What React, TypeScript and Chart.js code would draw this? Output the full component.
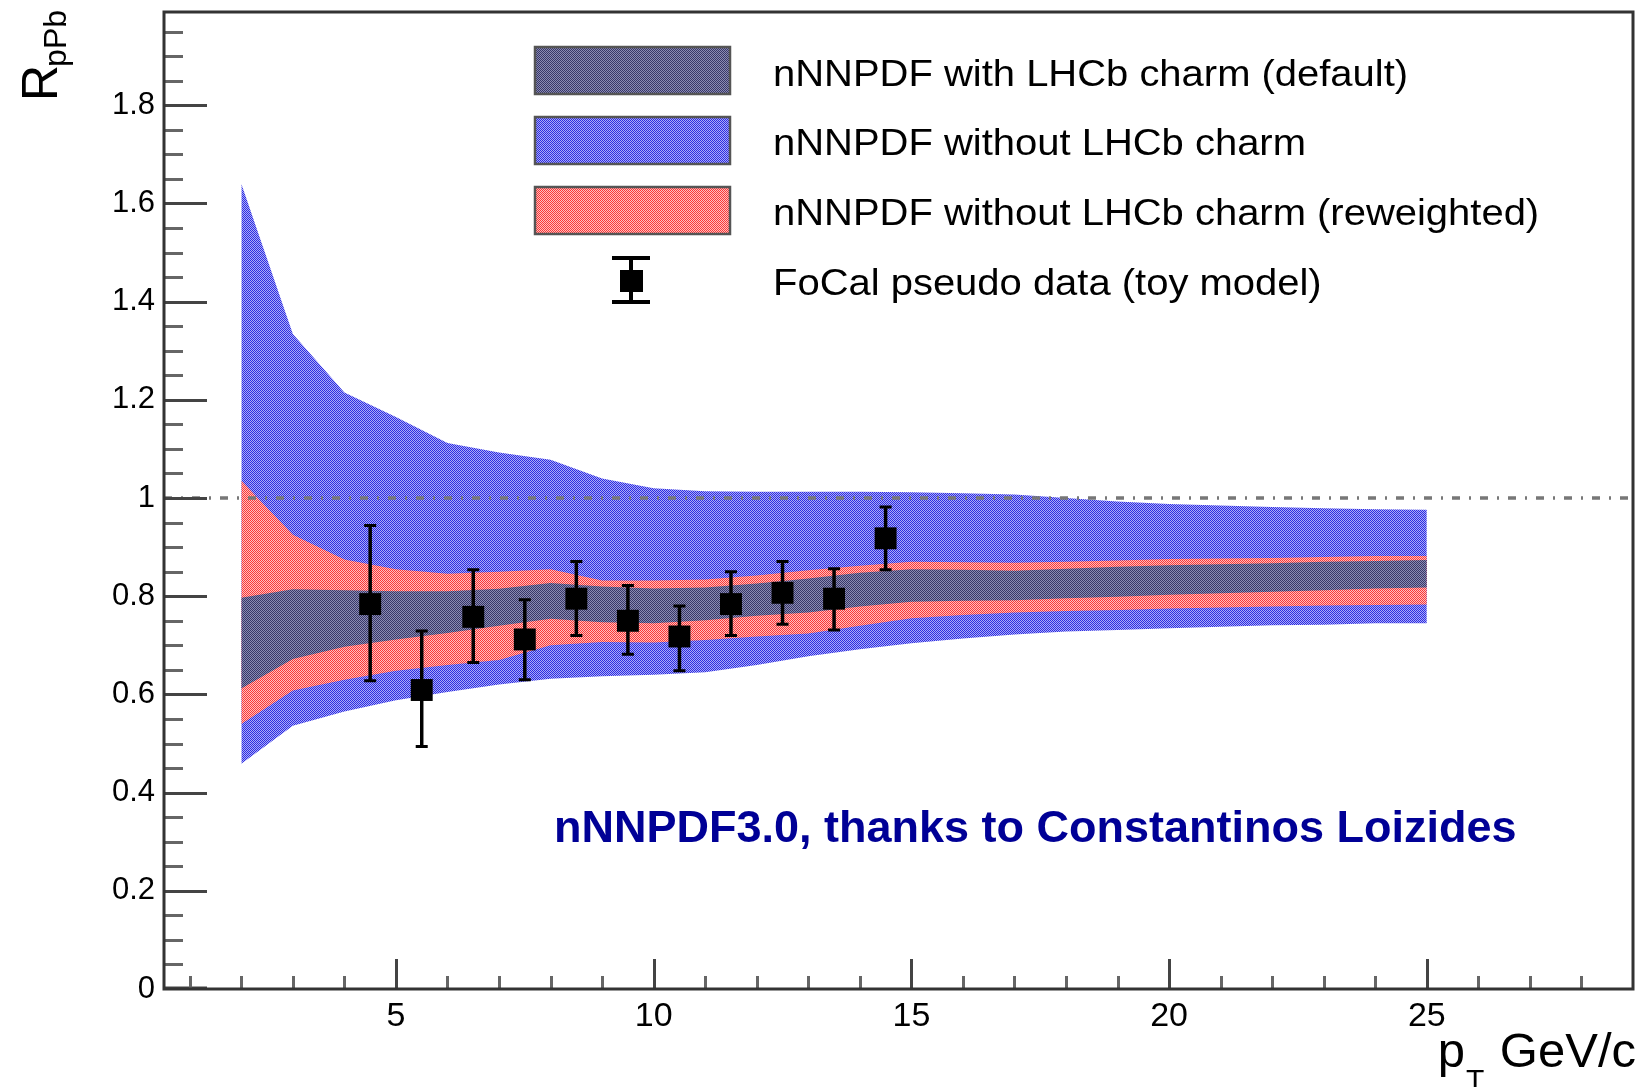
import React, { useEffect, useRef } from "react";
import { Chart, registerables } from "chart.js";

Chart.register(...registerables);

// ---------------- data ----------------
const bandX = [2, 3, 4, 5, 6, 7, 8, 9, 10, 11, 12, 13, 14, 15, 16, 17, 18, 19, 20, 21, 22, 23, 24, 25];

// nNNPDF without LHCb charm (blue)
const blueUpper = [1.640, 1.334, 1.215, 1.165, 1.112, 1.093, 1.078, 1.040, 1.020, 1.014, 1.013, 1.013, 1.013, 1.012, 1.010, 1.007, 1.000, 0.993, 0.988, 0.985, 0.982, 0.979, 0.977, 0.976];
const blueLower = [0.459, 0.536, 0.565, 0.588, 0.605, 0.620, 0.632, 0.637, 0.640, 0.645, 0.660, 0.678, 0.692, 0.704, 0.714, 0.722, 0.728, 0.731, 0.735, 0.738, 0.741, 0.742, 0.745, 0.745];

// nNNPDF without LHCb charm (reweighted) (red)
const redUpper = [1.035, 0.925, 0.875, 0.855, 0.846, 0.850, 0.855, 0.832, 0.832, 0.834, 0.842, 0.853, 0.862, 0.870, 0.869, 0.868, 0.870, 0.873, 0.876, 0.877, 0.878, 0.880, 0.882, 0.882];
const redLower = [0.540, 0.608, 0.630, 0.648, 0.660, 0.670, 0.700, 0.707, 0.706, 0.711, 0.718, 0.724, 0.740, 0.755, 0.762, 0.767, 0.770, 0.772, 0.775, 0.777, 0.779, 0.781, 0.782, 0.783];

// nNNPDF with LHCb charm (default) (dark)
const darkUpper = [0.797, 0.814, 0.812, 0.810, 0.810, 0.815, 0.827, 0.820, 0.816, 0.818, 0.826, 0.836, 0.848, 0.855, 0.854, 0.852, 0.856, 0.860, 0.863, 0.865, 0.867, 0.870, 0.872, 0.874];
const darkLower = [0.612, 0.672, 0.697, 0.712, 0.725, 0.740, 0.754, 0.747, 0.745, 0.751, 0.760, 0.767, 0.779, 0.789, 0.791, 0.792, 0.796, 0.799, 0.803, 0.806, 0.809, 0.812, 0.816, 0.818];

// FoCal pseudo data (toy model)
const dataX = [4.5, 5.5, 6.5, 7.5, 8.5, 9.5, 10.5, 11.5, 12.5, 13.5, 14.5];
const dataY = [0.784, 0.609, 0.758, 0.712, 0.795, 0.750, 0.718, 0.784, 0.807, 0.795, 0.918];
const dataHigh = [0.944, 0.729, 0.854, 0.793, 0.871, 0.822, 0.780, 0.850, 0.871, 0.856, 0.982];
const dataLow = [0.628, 0.494, 0.665, 0.630, 0.720, 0.682, 0.648, 0.720, 0.743, 0.731, 0.854];

const refLineX = [0.5, 29];
const refLineY = [1, 1];

const xTickValues = [5, 10, 15, 20, 25];
const yTickValues = [0, 0.2, 0.4, 0.6, 0.8, 1.0, 1.2, 1.4, 1.6, 1.8];

const legendLabels = [
  "nNNPDF with LHCb charm (default)",
  "nNNPDF without LHCb charm",
  "nNNPDF without LHCb charm (reweighted)",
  "FoCal pseudo data (toy model)",
];
const annotationText = "nNNPDF3.0, thanks to Constantinos Loizides";

// ---------------- helpers ----------------
const FONT = "'Liberation Sans', Arial, Helvetica, sans-serif";

function makePattern(c1: string, c2: string): CanvasPattern {
  const c = document.createElement("canvas");
  c.width = 2;
  c.height = 2;
  const g = c.getContext("2d")!;
  g.fillStyle = c2;
  g.fillRect(0, 0, 2, 2);
  g.fillStyle = c1;
  g.fillRect(0, 0, 1, 1);
  g.fillRect(1, 1, 1, 1);
  return g.createPattern(c, "repeat")!;
}

function pts(xs: number[], ys: number[]) {
  return xs.map((x, i) => ({ x, y: ys[i] }));
}

function stretchedText(ctx: CanvasRenderingContext2D, text: string, x: number, y: number, sx: number) {
  ctx.save();
  ctx.translate(x, y);
  ctx.scale(sx, 1);
  ctx.fillText(text, 0, 0);
  ctx.restore();
}

function zeroPadding(s: any) {
  s.paddingTop = 0;
  s.paddingBottom = 0;
  s.paddingLeft = 0;
  s.paddingRight = 0;
}

export default function App() {
  const ref = useRef<HTMLCanvasElement | null>(null);

  useEffect(() => {
    const canvas = ref.current;
    if (!canvas) return;

    const bluePat = makePattern("rgb(45,45,225)", "rgb(170,170,248)");
    const redPat = makePattern("rgb(250,55,55)", "rgb(255,190,190)");
    const darkPat = makePattern("rgb(55,55,105)", "rgb(140,140,178)");

    const rootPlugin = {
      id: "rootStyle",
      beforeDatasetDraw(chart: any, args: any) {
        if (args.index !== 7) return;
        const ctx: CanvasRenderingContext2D = chart.ctx;
        const xs = chart.scales.x;
        const ys = chart.scales.y;
        ctx.save();
        ctx.strokeStyle = "#000";
        dataX.forEach((x, i) => {
          const px = xs.getPixelForValue(x);
          const pHi = ys.getPixelForValue(dataHigh[i]);
          const pLo = ys.getPixelForValue(dataLow[i]);
          ctx.lineWidth = 3.5;
          ctx.beginPath();
          ctx.moveTo(px, pHi);
          ctx.lineTo(px, pLo);
          ctx.stroke();
          ctx.lineWidth = 3;
          ctx.beginPath();
          ctx.moveTo(px - 6, pHi);
          ctx.lineTo(px + 6, pHi);
          ctx.moveTo(px - 6, pLo);
          ctx.lineTo(px + 6, pLo);
          ctx.stroke();
        });
        ctx.restore();
      },
      afterDraw(chart: any) {
        const ctx: CanvasRenderingContext2D = chart.ctx;
        const a = chart.chartArea;
        const xs = chart.scales.x;
        const ys = chart.scales.y;
        ctx.save();

        // ticks (inside the frame)
        ctx.lineCap = "butt";
        ctx.lineWidth = 3;
        for (let k = 1; k < 40; k++) {
          const v = k * 0.05;
          if (v > ys.max) break;
          const major = k % 4 === 0;
          const py = Math.round(ys.getPixelForValue(v)) + 0.5;
          ctx.strokeStyle = major ? "#444" : "#666";
          ctx.beginPath();
          ctx.moveTo(a.left, py);
          ctx.lineTo(a.left + (major ? 43 : 19), py);
          ctx.stroke();
        }
        ctx.strokeStyle = "#444";
        ctx.beginPath();
        ctx.moveTo(a.left, a.bottom - 1);
        ctx.lineTo(a.left + 43, a.bottom - 1);
        ctx.stroke();
        for (let v = 1; v <= 29; v++) {
          if (v >= xs.max) break;
          const major = v % 5 === 0;
          const px = Math.round(xs.getPixelForValue(v)) + 0.5;
          ctx.strokeStyle = major ? "#444" : "#666";
          ctx.beginPath();
          ctx.moveTo(px, a.bottom);
          ctx.lineTo(px, a.bottom - (major ? 30 : 13));
          ctx.stroke();
        }

        // frame
        ctx.strokeStyle = "#333";
        ctx.lineWidth = 3;
        ctx.strokeRect(a.left, a.top, a.right - a.left, a.bottom - a.top);

        // legend
        const boxL = 535, boxW = 195, boxH = 47;
        const boxTops = [47, 117, 187];
        const pats = [darkPat, bluePat, redPat];
        boxTops.forEach((t, i) => {
          ctx.fillStyle = pats[i];
          ctx.fillRect(boxL, t, boxW, boxH);
          ctx.strokeStyle = "#555";
          ctx.lineWidth = 2.5;
          ctx.strokeRect(boxL, t, boxW, boxH);
        });
        ctx.strokeStyle = "#000";
        ctx.fillStyle = "#000";
        ctx.lineWidth = 4;
        ctx.beginPath();
        ctx.moveTo(631, 258);
        ctx.lineTo(631, 302);
        ctx.moveTo(612, 258);
        ctx.lineTo(650, 258);
        ctx.moveTo(612, 302);
        ctx.lineTo(650, 302);
        ctx.stroke();
        ctx.fillRect(620, 270, 23, 22);

        ctx.fillStyle = "#000";
        ctx.font = `36px ${FONT}`;
        ctx.textAlign = "left";
        ctx.textBaseline = "alphabetic";
        const baselines = [86, 155, 225, 295];
        legendLabels.forEach((lbl, i) => stretchedText(ctx, lbl, 773, baselines[i], 1.11));

        // annotation
        ctx.fillStyle = "rgb(0,0,150)";
        ctx.font = `bold 45px ${FONT}`;
        ctx.fillText(annotationText, 554, 842);

        // x-axis title: p_T GeV/c
        ctx.fillStyle = "#000";
        ctx.font = `49px ${FONT}`;
        ctx.textAlign = "right";
        const xEnd = 1636;
        const wG = ctx.measureText(" GeV/c").width;
        ctx.fillText(" GeV/c", xEnd, 1067);
        ctx.font = `30px ${FONT}`;
        const wT = ctx.measureText("T").width;
        ctx.fillText("T", xEnd - wG - 2, 1090);
        ctx.font = `49px ${FONT}`;
        ctx.fillText("p", xEnd - wG - wT - 3, 1067);

        // y-axis title: R_pPb (rotated)
        ctx.save();
        ctx.translate(57, 101);
        ctx.rotate(-Math.PI / 2);
        ctx.textAlign = "left";
        ctx.font = `50px ${FONT}`;
        ctx.fillText("R", 0, 0);
        const wR = ctx.measureText("R").width;
        ctx.font = `32px ${FONT}`;
        ctx.fillText("pPb", wR - 2, 9);
        ctx.restore();

        ctx.restore();
      },
    };

    const bandCommon = {
      borderColor: "transparent",
      borderWidth: 1,
      pointRadius: 0,
      pointHoverRadius: 0,
      tension: 0,
    };

    const chart = new Chart(canvas, {
      type: "line",
      data: {
        datasets: [
          { ...bandCommon, label: "blueU", data: pts(bandX, blueUpper), fill: 1, backgroundColor: bluePat, order: 5 },
          { ...bandCommon, label: "blueL", data: pts(bandX, blueLower), fill: false, order: 5 },
          { ...bandCommon, label: "redU", data: pts(bandX, redUpper), fill: 3, backgroundColor: redPat, order: 4 },
          { ...bandCommon, label: "redL", data: pts(bandX, redLower), fill: false, order: 4 },
          { ...bandCommon, label: "darkU", data: pts(bandX, darkUpper), fill: 5, backgroundColor: darkPat, order: 3 },
          { ...bandCommon, label: "darkL", data: pts(bandX, darkLower), fill: false, order: 3 },
          {
            label: "ref",
            data: pts(refLineX, refLineY),
            borderColor: "#777",
            borderWidth: 3.5,
            borderDash: [8, 9, 2, 9],
            pointRadius: 0,
            fill: false,
            order: 2,
          },
          {
            label: "data",
            data: pts(dataX, dataY),
            showLine: false,
            pointStyle: "rect",
            pointRadius: 15.5,
            pointHoverRadius: 15.5,
            pointBackgroundColor: "#000",
            pointBorderColor: "#000",
            pointBorderWidth: 0,
            fill: false,
            order: 1,
          },
        ],
      } as any,
      options: {
        animation: false,
        responsive: false,
        devicePixelRatio: 1,
        events: [],
        layout: { autoPadding: false, padding: { top: 12, right: 6, left: 0, bottom: 0 } },
        plugins: {
          legend: { display: false },
          tooltip: { enabled: false },
          title: { display: false },
        },
        scales: {
          x: {
            type: "linear",
            min: 0.5,
            max: 29,
            grid: { display: false, drawTicks: false },
            border: { display: false },
            ticks: {
              color: "#000",
              font: { family: FONT, size: 34 },
              padding: 7,
              maxRotation: 0,
              autoSkip: false,
              callback: (v: any) => String(v),
            },
            afterBuildTicks: (s: any) => {
              s.ticks = xTickValues.map((v) => ({ value: v }));
            },
            afterFit: (s: any) => {
              s.height = 98;
              zeroPadding(s);
            },
          },
          y: {
            type: "linear",
            min: 0,
            max: 1.99,
            grid: { display: false, drawTicks: false },
            border: { display: false },
            ticks: {
              color: "#000",
              font: { family: FONT, size: 31 },
              padding: 9,
              autoSkip: false,
              callback: (v: any) => String(Math.round(Number(v) * 10) / 10),
            },
            afterBuildTicks: (s: any) => {
              s.ticks = yTickValues.map((v) => ({ value: v }));
            },
            afterFit: (s: any) => {
              s.width = 164;
              zeroPadding(s);
            },
          },
        },
      } as any,
      plugins: [rootPlugin],
    });

    return () => chart.destroy();
  }, []);

  return (
    <div style={{ position: "absolute", left: 0, top: 0, width: 1639, height: 1087, background: "#fff" }}>
      <canvas ref={ref} width={1639} height={1087} style={{ display: "block", width: 1639, height: 1087 }} />
    </div>
  );
}
